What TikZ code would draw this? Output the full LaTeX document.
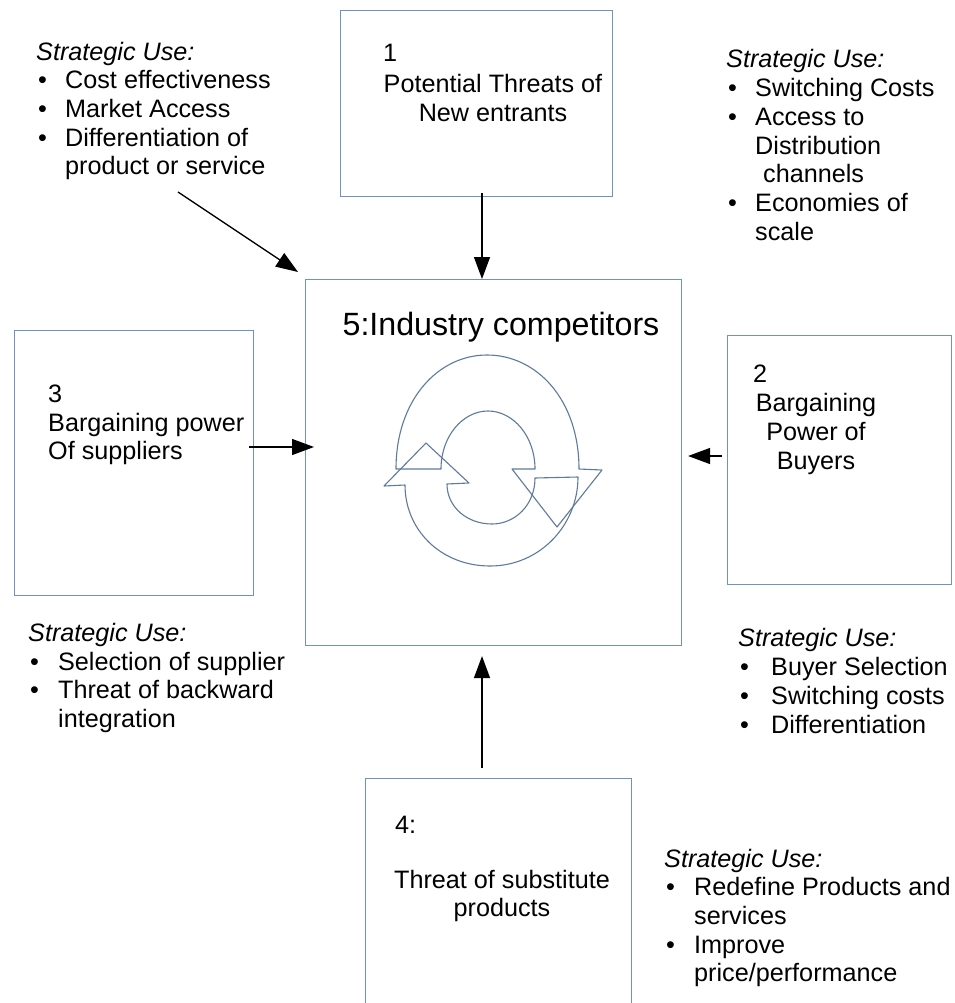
\documentclass[tikz,border=0pt]{standalone}
\usepackage{fontspec}
\setmainfont{Liberation Sans}
\usetikzlibrary{arrows.meta}
\newcommand{\bl}[1]{\makebox[29pt][l]{\hspace{2pt}•}#1}
\newcommand{\blw}[1]{\makebox[33pt][l]{\hspace{2pt}•}#1}
\newcommand{\cn}[1]{\makebox[29pt][l]{}#1}
\tikzset{
  x=1pt,y=-1pt,
  box/.style={draw=boxblue,line width=1.1pt,fill=white,inner sep=0pt,anchor=north west},
  txt/.style={font=\fontsize{25.2}{28.7}\selectfont,inner sep=0pt,align=left,anchor=west,text=black},
  ctxt/.style={font=\fontsize{25.2}{28.7}\selectfont,inner sep=0pt,align=center,anchor=center,text=black},
  arr/.style={draw=black,line width=1.3pt,-{Triangle[length=22pt,width=16pt]}},
  cyc/.style={draw=cycblue,line width=1.1pt,line join=round},
}
\definecolor{boxblue}{HTML}{6F93BC}
\definecolor{cycblue}{HTML}{5F7A9A}
\begin{document}
\begin{tikzpicture}
\useasboundingbox (0,0) rectangle (954,1003);
\fill[white] (0,0) rectangle (954,1003);
% boxes
\node[box,minimum width=272pt,minimum height=186pt] (b1) at (340,10) {};
\node[box,minimum width=376pt,minimum height=366pt] (b5) at (305,279) {};
\node[box,minimum width=239pt,minimum height=265pt] (b3) at (14,330) {};
\node[box,minimum width=224pt,minimum height=249pt] (b2) at (727,335) {};
\node[box,minimum width=266pt,minimum height=240pt] (b4) at (365,778) {};
% box labels
\node[txt] (n1) at (383,53) {1};
\node[ctxt] (t1) at (493,98) {Potential Threats of\\New entrants};
\node[txt] (n2) at (753,374) {2};
\node[ctxt] (t2) at (816,434) {Bargaining\\Power of\\Buyers};
\node[txt] (n3) at (48,394) {3};
\node[txt] (t3) at (48,439) {Bargaining power\\Of suppliers};
\node[txt] (n4) at (395,825) {4:};
\node[ctxt] (t4) at (502,896) {Threat of substitute\\products};
\node[inner sep=0pt,font=\fontsize{32.2}{38}\selectfont,text=black] (t5) at (501,327) {5:Industry competitors};
% cycle arrows
\draw[cyc] (396,469) .. controls (396,400) and (438,355) .. (487,355)
  .. controls (537,355) and (579,400) .. (579,469) -- (602,470) -- (557,527) -- (512,469) -- (535,469)
  .. controls (535,436) and (513,411) .. (488,411)
  .. controls (463,411) and (441,436) .. (441,469) -- cycle;
\draw[cyc] (426,443) -- (469,483) -- (447,484)
  .. controls (447,507) and (467,524) .. (492,524)
  .. controls (515,524) and (535,505) .. (535,478) -- (578,477)
  .. controls (578,525) and (540,566) .. (490,566)
  .. controls (441,566) and (405,530) .. (405,485) -- (384,486) -- cycle;
% strategic use
\node[txt] (s1) at (36,111) {\textit{Strategic Use:}\\\bl{Cost effectiveness}\\\bl{Market Access}\\\bl{Differentiation of}\\\cn{product or service}};
\node[txt] (s2) at (726,145) {\textit{Strategic Use:}\\\bl{Switching Costs}\\\bl{Access to}\\\cn{Distribution}\\\cn{\hspace{8pt}channels}\\\bl{Economies of}\\\cn{scale}};
\node[txt] (s3) at (28,678) {\textit{Strategic Use:}\\\makebox[30pt][l]{\hspace{2pt}•}Selection of supplier\\\makebox[30pt][l]{\hspace{2pt}•}Threat of backward\\\makebox[30pt][l]{}integration};
\node[txt] (s4) at (738,681) {\textit{Strategic Use:}\\\blw{Buyer Selection}\\\blw{Switching costs}\\\blw{Differentiation}};
\node[txt] (s5) at (664,918) {\textit{Strategic Use:}\\\makebox[30pt][l]{\hspace{2pt}•}Redefine Products and\\\makebox[30pt][l]{}services\\\makebox[30pt][l]{\hspace{2pt}•}Improve\\\makebox[30pt][l]{}price/performance};
% connectors
\coordinate (sx) at (482,0);
\coordinate (hy3) at (0,447);
\coordinate (hy2) at (0,456);
\coordinate (s1end) at (178,192);
\coordinate (b5nw) at (298,272);
\draw[arr] ([yshift=4pt]sx |- b1.south) -- (sx |- b5.north);
\draw[arr] (s1end) -- (b5nw);
\draw[arr] ([xshift=-5pt]b3.east |- hy3) -- ([xshift=9pt]b5.west |- hy3);
\draw[arr] ([xshift=-5pt]b2.west |- hy2) -- ([xshift=6pt]b5.east |- hy2);
\draw[arr] ([yshift=10pt]sx |- b4.north) -- ([yshift=-10pt]sx |- b5.south);
\end{tikzpicture}
\end{document}
